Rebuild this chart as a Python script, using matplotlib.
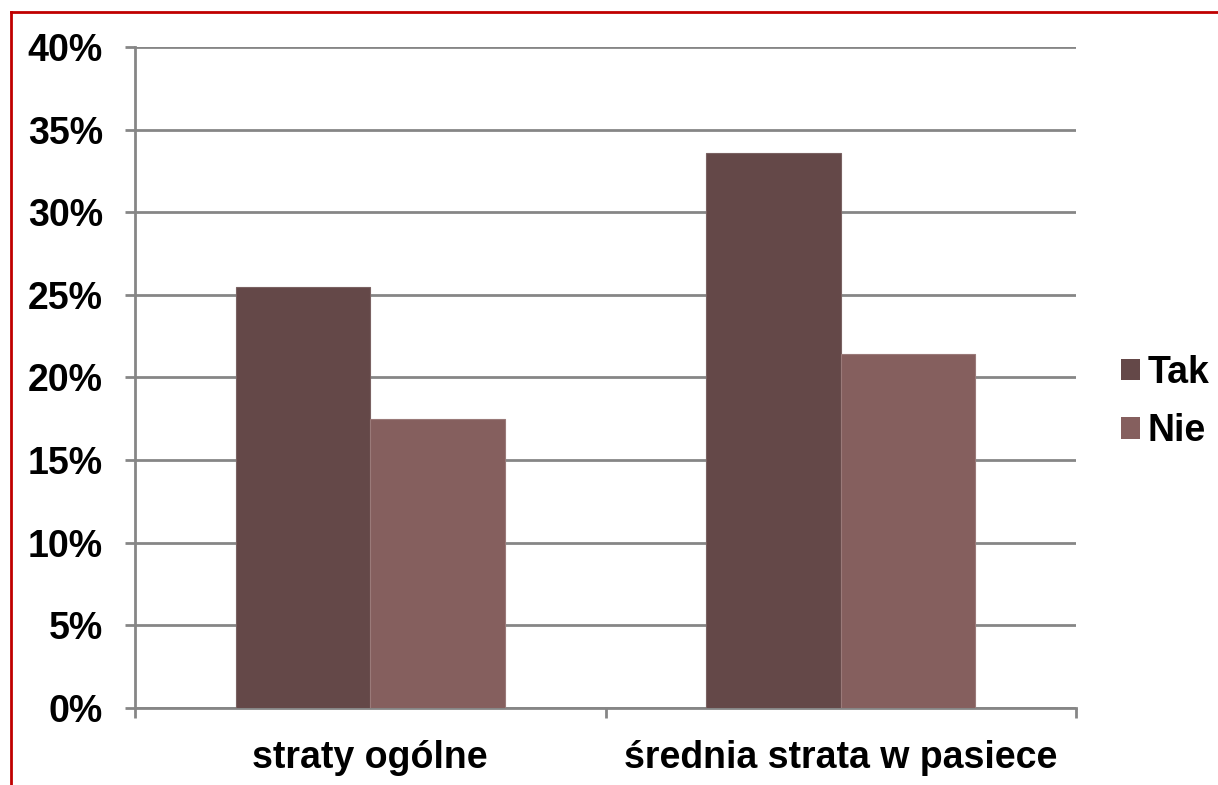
import numpy as np
import matplotlib
matplotlib.use("Agg")
import matplotlib.pyplot as plt
from matplotlib.lines import Line2D
from matplotlib.patches import Patch

categories = ["straty ogólne", "średnia strata w pasiece"]
series_names = ["Tak", "Nie"]
tak_values = [25.5, 33.6]
nie_values = [17.5, 21.4]
y_ticks = [0, 5, 10, 15, 20, 25, 30, 35, 40]

colors = ["#644848", "#855F5E"]
grid_color = "#868686"

plt.rcParams["font.family"] = ["Liberation Sans", "DejaVu Sans"]
plt.rcParams["font.weight"] = "bold"

fig = plt.figure(figsize=(12.18, 7.85), dpi=100)
ax = fig.add_axes([135 / 1218, 1 - 708 / 785, (1076 - 135) / 1218, (708 - 47) / 785])

x = np.arange(len(categories))
width = 1 / 3.5
ax.bar(x - width / 2, tak_values, width, color=colors[0], edgecolor="#7a6262", linewidth=0.8, zorder=3)
ax.bar(x + width / 2, nie_values, width, color=colors[1], edgecolor="#9a7a79", linewidth=0.8, zorder=3)

ax.set_xlim(-0.5, len(categories) - 0.5)
ax.set_ylim(0, 40)
ax.set_yticks(y_ticks)
ax.set_yticklabels([f"{v}%" for v in y_ticks], fontsize=27, fontweight="bold")
ax.yaxis.grid(True, color=grid_color, linewidth=2, zorder=0)
ax.set_axisbelow(True)

ax.set_xticks(x)
ax.set_xticklabels(categories, fontsize=27, fontweight="bold")
ax.tick_params(axis="x", which="major", length=0, pad=23)
ax.set_xticks(np.arange(-0.5, len(categories)), minor=True)
ax.tick_params(axis="x", which="minor", length=7, width=2, color=grid_color, direction="out")
ax.tick_params(axis="y", length=7, width=2, color=grid_color, direction="out", pad=16)

for side in ["top", "right"]:
    ax.spines[side].set_visible(False)
for side in ["left", "bottom"]:
    ax.spines[side].set_color(grid_color)
    ax.spines[side].set_linewidth(2)

handles = [Patch(facecolor=c, edgecolor="none") for c in colors]
fig.legend(handles, series_names, loc="center left", bbox_to_anchor=(1121 / 1218, 1 - 402 / 785),
           frameon=False, prop={"weight": "bold", "size": 27},
           handlelength=0.5, handleheight=0.5, handletextpad=0.2, labelspacing=0.6,
           borderpad=0, borderaxespad=0)

# red frame (only top and left edges visible)
red = "#C00000"
fig.add_artist(Line2D([11 / 1218, 1], [1 - 12 / 785, 1 - 12 / 785], color=red, linewidth=2,
                      transform=fig.transFigure))
fig.add_artist(Line2D([11 / 1218, 11 / 1218], [0, 1 - 12 / 785], color=red, linewidth=2,
                      transform=fig.transFigure))

fig.savefig("out.png", dpi=100)
